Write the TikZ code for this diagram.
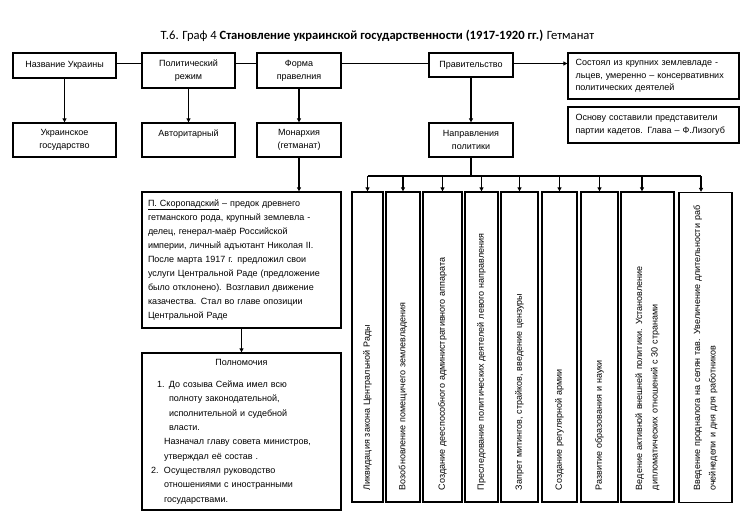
\documentclass[tikz,border=0pt]{standalone}
\usepackage{fontspec}
\setmainfont{Liberation Sans}
\newfontfamily\titlefont{Carlito}
\usetikzlibrary{arrows.meta}

\begin{document}
\begin{tikzpicture}[x=1pt, y=-1pt, line width=1.3pt,
  box/.style={draw, fill=white, align=center, inner sep=2pt, font=\fontsize{9}{13}\selectfont},
  note/.style={draw, fill=white, align=left, text width=156pt, inner xsep=7.5pt, font=\fontsize{9}{12.5}\selectfont},
  vbox/.style={draw, fill=white, rotate=90, text width=286pt, align=left, inner xsep=12pt, inner ysep=2pt, font=\fontsize{9}{15.5}\selectfont},
  arr/.style={-{Triangle[length=4pt,width=4pt]}}]
  \fill[white] (0,0) rectangle (751,525);
  \useasboundingbox (0,0) rectangle (751,525);
  % Title
  \node[anchor=west, inner sep=0pt, font=\titlefont\fontsize{12.6}{14}\selectfont] (title) at (160,36)
    {Т.6. Граф 4 \textbf{Становление украинской государственности (1917-1920 гг.)} Гетманат};
  % Top row
  \node[box, minimum width=103pt, minimum height=25pt] (nazv) at (64.5,65.5) {Название Украины};
  \node[box, minimum width=93pt, minimum height=35pt] (rezh) at (188.5,70.5) {Политический\\ режим};
  \node[box, minimum width=84pt, minimum height=35pt] (forma) at (299,70.5) {Форма\\ правелния};
  \node[box, minimum width=84pt, minimum height=24pt] (prav) at (471,65) {Правительство};
  \node[note, minimum height=46pt] (sost) at (653.5,76)
    {Состоял из крупних землевладе -\\ льцев, умеренно – консервативних\\ политических деятелей};
  \node[note, minimum height=36pt] (osn) at (653.5,125)
    {Основу составили представители\\ партии кадетов. Глава – Ф.Лизогуб};
  % Second row
  \node[box, minimum width=103pt, minimum height=34pt] (ukr) at (64.5,140) {Украинское\\ государство};
  \node[box, minimum width=93pt, minimum height=34pt] (avt) at (188.5,140) {Авторитарный\\ \mbox{}};
  \node[box, minimum width=84pt, minimum height=34pt] (mon) at (299,140) {Монархия\\ (гетманат)};
  \node[box, minimum width=84pt, minimum height=34pt] (napr) at (471,140) {Направления\\ политики};
  % Hetman
  \node[draw, fill=white, align=left, text width=187pt, inner xsep=6pt, minimum height=136pt,
    font=\fontsize{9}{14.1}\selectfont] (skor) at (241.5,260)
    {\underline{П. Скоропадский} – предок древнего\\
     гетманского рода, крупный землевла -\\
     делец, генерал-маёр Российской\\
     империи, личный адъютант Николая II.\\
     После марта 1917 г. предложил свои\\
     услуги Центральной Раде (предложение\\
     было отклонено). Возглавил движение\\
     казачества. Стал во главе опозиции\\
     Центральной Раде};
  \node[draw, fill=white, align=left, text width=187pt, inner xsep=6pt, minimum height=157pt,
    font=\fontsize{9}{14.3}\selectfont] (poln) at (241.5,431.5)
    {{\centering Полномочия\par}\vspace{8pt}
     \hspace*{9pt}\makebox[12pt][l]{1.}До созыва Сейма имел всю\\
     \hspace*{21pt}полноту законодательной,\\
     \hspace*{21pt}исполнительной и судебной\\
     \hspace*{21pt}власти.\\
     \hspace*{16pt}Назначал главу совета министров,\\
     \hspace*{16pt}утверждал её состав .\\
     \hspace*{3pt}\makebox[13pt][l]{2.}Осуществлял руководство\\
     \hspace*{16pt}отношениями с иностранными\\
     \hspace*{16pt}государствами.};
  % Policy directions
  \node[vbox, minimum height=31pt] (v1) at (367.5,347) {Ликвидация закона Центральной Рады};
  \node[vbox, minimum height=34pt] (v2) at (403,347) {Возобновление помещичего землевладения};
  \node[vbox, minimum height=39pt] (v3) at (442.5,347) {Создание дееспособного административного аппарата};
  \node[vbox, minimum height=33pt] (v4) at (481.5,347) {Преследование политических деятелей левого направления};
  \node[vbox, minimum height=37pt] (v5) at (519.5,347) {Запрет митингов, страйков, введение цензуры};
  \node[vbox, minimum height=35pt] (v6) at (559.5,347) {Создание регулярной армии};
  \node[vbox, minimum height=37pt] (v7) at (599.5,347) {Развитие образования и науки};
  \node[vbox, minimum height=53pt] (v8) at (647.5,347)
    {Ведение активной внешней политики. Установление\\ дипломатических отношений с 30 странами};
  \node[vbox, minimum height=53pt] (v9) at (705.5,347.5)
    {Введение продналога на селян тав. Увеличение длительности раб\\ очейнедели и дня для работников};
  % Connectors
  \coordinate (topline) at (0,63.5);
  \coordinate (bus) at (0,176);
  \draw (nazv.east |- topline) -- (rezh.west |- topline);
  \draw (rezh.east |- topline) -- (forma.west |- topline);
  \draw (forma.east |- topline) -- (prav.west |- topline);
  \draw[arr] (prav.east |- topline) -- (sost.west |- topline);
  \draw[arr] (nazv) -- (ukr);
  \draw[arr] (rezh) -- (avt);
  \draw[arr] (forma) -- (mon);
  \draw[arr] (prav) -- (napr);
  \draw[arr] (mon.south) -- (mon.south |- skor.north);
  \draw[arr] (skor) -- (poln);
  \coordinate (t8) at ([xshift=-5.5pt]v8.east);
  \coordinate (t9) at ([xshift=-4.5pt]v9.east);
  \draw (napr.south) -- (napr.south |- bus);
  \draw (v1.east |- bus) -- (t9 |- bus);
  \foreach \n in {1,...,7}
    \draw[arr] (v\n.east |- bus) -- (v\n.east);
  \draw[arr] (t8 |- bus) -- (t8);
  \draw[arr] (t9 |- bus) -- (t9);
\end{tikzpicture}
\end{document}
